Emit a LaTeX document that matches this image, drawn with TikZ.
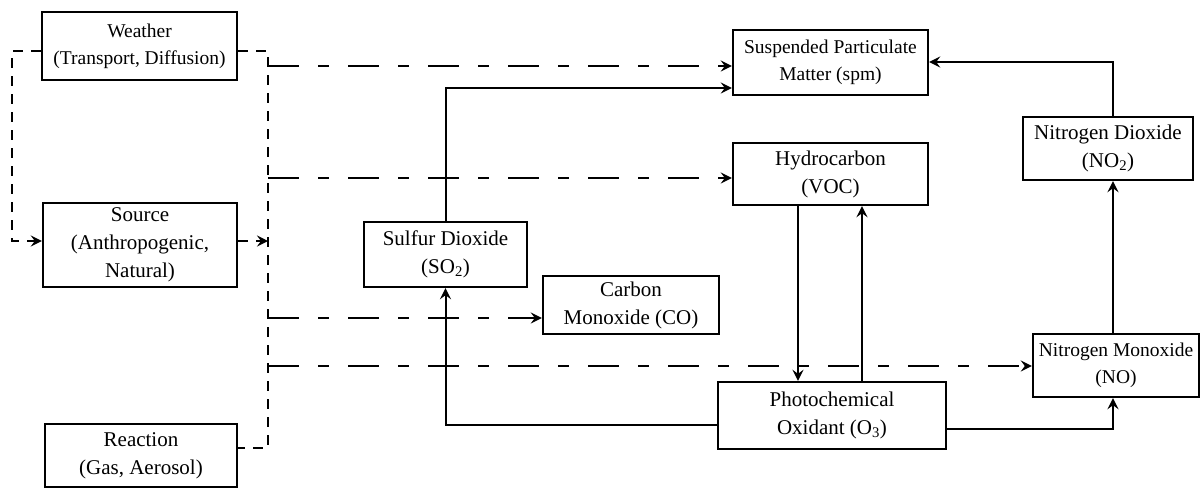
\documentclass[tikz,border=0pt]{standalone}
\usepackage{fontspec}
\setmainfont{Liberation Serif}
\usetikzlibrary{arrows.meta}
\begin{document}
\begin{tikzpicture}[x=1pt,y=-1pt,
 box/.style={draw,line width=2.4pt,inner sep=0pt,align=center,font=\fontsize{21}{28}\selectfont},
 sm/.style={font=\fontsize{19.5}{27}\selectfont},
 conn/.style={line width=2pt},
 arr/.style={-{Stealth[length=11pt,width=11pt,inset=4pt]}},
 bus/.style={line width=2.2pt,dash pattern=on 10pt off 8pt},
 branch/.style={line width=2.2pt,dash pattern=on 31pt off 19pt on 11pt off 19pt}]
\useasboundingbox (0,0) rectangle (1202,488);
% boxes
\node[box,sm,minimum width=195pt,minimum height=68pt] (weather) at (139.5,46) {Weather\\(Transport, Diffusion)};
\node[box,minimum width=194pt,minimum height=84pt] (source) at (140,245) {Source\\(Anthropogenic,\\Natural)};
\node[box,minimum width=192pt,minimum height=63pt] (reaction) at (141,455.5) {Reaction\\(Gas, Aerosol)};
\node[box,sm,minimum width=195pt,minimum height=65pt] (spm) at (830.5,62.5) {Suspended Particulate\\Matter (spm)};
\node[box,minimum width=195pt,minimum height=62pt] (hc) at (830.5,174) {Hydrocarbon\\(VOC)};
\node[box,minimum width=163pt,minimum height=65pt] (so2) at (445.5,254.5) {Sulfur Dioxide\\(SO\textsubscript{2})};
\node[box,minimum width=176pt,minimum height=58pt] (co) at (631,305) {Carbon\\Monoxide (CO)};
\node[box,minimum width=228pt,minimum height=67pt] (ox) at (832,415.5) {Photochemical\\Oxidant (O\textsubscript{3})};
\node[box,minimum width=170pt,minimum height=63pt] (no2) at (1108,148.5) {Nitrogen Dioxide\\(NO\textsubscript{2})};
\node[box,sm,minimum width=166pt,minimum height=63pt] (no) at (1116,365.5) {Nitrogen Monoxide\\(NO)};
% helper coordinates
\coordinate (L) at (12,51);
\coordinate (L2) at (12,241);
\coordinate (B1) at (268,51);
\coordinate (B2) at (268,448);
\coordinate (Bs) at (268,241);
\coordinate (r66) at (268,66);
\coordinate (r178) at (268,178);
\coordinate (r318) at (268,318);
\coordinate (r366) at (268,366);
\coordinate (s88) at (0,88);
\coordinate (s425) at (0,425);
\coordinate (s62) at (0,62);
\coordinate (s429) at (0,429);
\coordinate (v798) at (798,0);
\coordinate (v862) at (862,0);
\coordinate (v1113) at (1113,0);
% dashed loop and bus
\draw[bus,arr] (weather.west |- L) -- (L) -- (L2) -- (source.west |- L2);
\draw[bus] (weather.east |- B1) -- (B1) -- (B2) -- (reaction.east |- B2);
\draw[bus,arr] (source.east |- Bs) -- (Bs);
% dashed branches
\draw[branch,arr] (r66) -- (spm.west |- r66);
\draw[branch,arr] (r178) -- (hc.west |- r178);
\draw[branch,arr] (r318) -- (co.west |- r318);
\draw[branch,arr] (r366) -- (no.west |- r366);
% solid connectors
\draw[conn,arr] (so2.north) |- (spm.west |- s88);
\draw[conn,arr] (ox.west |- s425) -| (so2.south);
\draw[conn,arr] (hc.south -| v798) -- (ox.north -| v798);
\draw[conn,arr] (ox.north -| v862) -- (hc.south -| v862);
\draw[conn,arr] (no2.north -| v1113) |- (spm.east |- s62);
\draw[conn,arr] (no.north -| v1113) -- (no2.south -| v1113);
\draw[conn,arr] (ox.east |- s429) -| (no.south -| v1113);
\end{tikzpicture}
\end{document}
